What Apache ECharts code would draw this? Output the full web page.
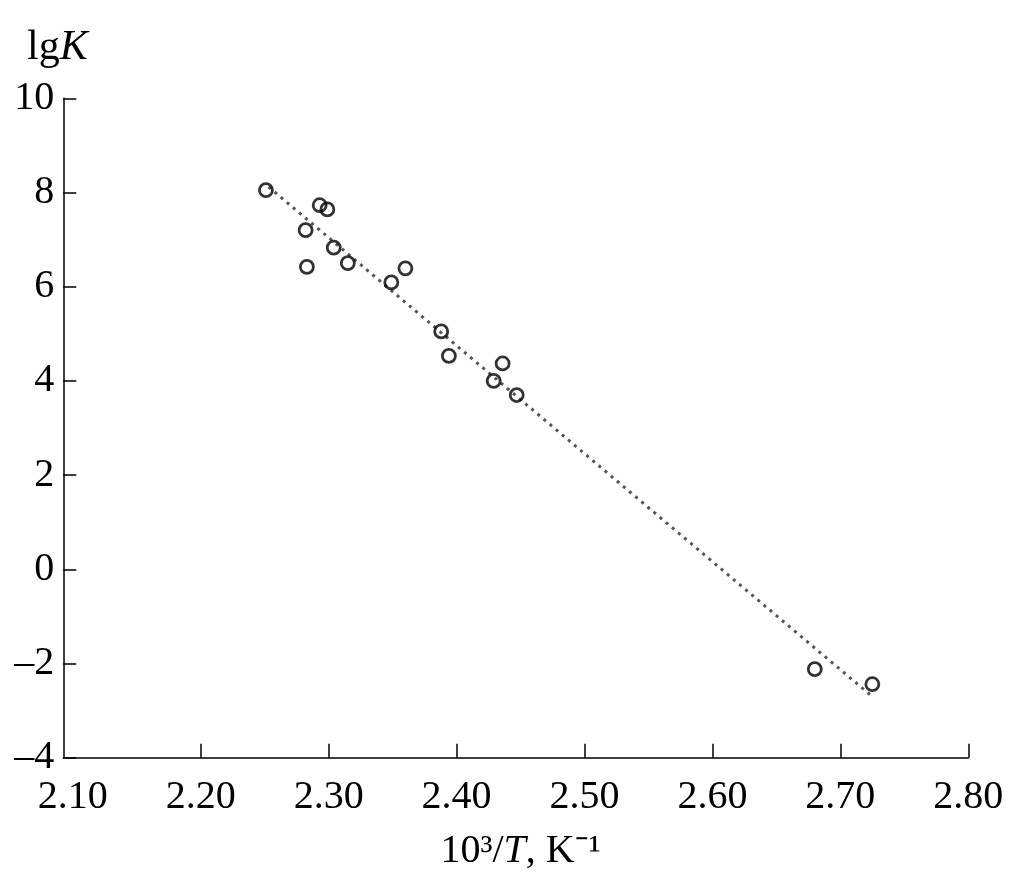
<!DOCTYPE html>
<html>
<head>
<meta charset="utf-8">
<script src="https://cdn.jsdelivr.net/npm/echarts@6/dist/echarts.min.js"></script>
<style>html,body{margin:0;padding:0;background:#fff}#c{width:1032px;height:892px}</style>
</head>
<body>
<div id="c"></div>
<script>
// Data
const invT = [2.251, 2.293, 2.299, 2.282, 2.283, 2.304, 2.315, 2.349, 2.360, 2.388, 2.394, 2.436, 2.429, 2.447, 2.680, 2.725];
const lgK  = [8.05, 7.73, 7.64, 7.20, 6.42, 6.83, 6.50, 6.09, 6.39, 5.05, 4.53, 4.37, 4.00, 3.70, -2.12, -2.44];
const fitX = [2.253, 2.724];
const fitY = [8.12, -2.68];
const xTicks = [2.20, 2.30, 2.40, 2.50, 2.60, 2.70, 2.80];
const xLabels = [2.10, 2.20, 2.30, 2.40, 2.50, 2.60, 2.70, 2.80];

const FONT = 'Liberation Serif';
const FS = 40;
const pts = invT.map((x, i) => [x, lgK[i]]);
const fit = fitX.map((x, i) => [x, fitY[i]]);

const G = {top: 98.3, bottom: 134.3, right: 63.7};
const chart = echarts.init(document.getElementById('c'), null, {renderer: 'canvas'});
chart.setOption({
  backgroundColor: '#fff',
  animation: false,
  title: {
    text: '{a|lg}{b|K}',
    left: 22, top: 22,
    textStyle: {
      fontWeight: 'normal',
      rich: {
        a: {fontFamily: FONT, fontSize: 42, fontWeight: 'normal', color: '#000'},
        b: {fontFamily: FONT, fontSize: 42, fontWeight: 'normal', fontStyle: 'italic', color: '#000'}
      }
    }
  },
  grid: [
    {left: 63.3, right: G.right, top: G.top, bottom: G.bottom},
    {left: 72.8, right: G.right, top: G.top, bottom: G.bottom}
  ],
  xAxis: [
    {
      type: 'value', gridIndex: 0, min: 2.0926, max: 2.80,
      axisLine: {show: true, onZero: false, lineStyle: {color: '#000', width: 1.5}},
      axisTick: {show: false}, axisLabel: {show: false}, splitLine: {show: false}
    },
    {
      type: 'value', gridIndex: 1, min: 2.10, max: 2.80, interval: 0.1,
      axisLine: {show: false, onZero: false},
      axisTick: {show: true, inside: true, length: 14, customValues: xTicks, lineStyle: {color: '#000', width: 1.5}},
      axisLabel: {
        customValues: xLabels, margin: 20,
        fontFamily: FONT, fontSize: FS, color: '#000',
        formatter: v => Number(v).toFixed(2)
      },
      splitLine: {show: false},
      name: '10³/{i|T}, K⁻¹',
      nameLocation: 'middle', nameGap: 74,
      nameTextStyle: {
        fontFamily: FONT, fontSize: FS, color: '#000',
        rich: {i: {fontFamily: FONT, fontSize: FS, fontStyle: 'italic', color: '#000'}}
      }
    }
  ],
  yAxis: [
    {
      type: 'value', gridIndex: 0, min: -4, max: 10, interval: 2,
      axisLine: {show: true, onZero: false, lineStyle: {color: '#000', width: 1.5}},
      axisTick: {show: true, inside: true, length: 13, lineStyle: {color: '#000', width: 1.5}},
      axisLabel: {
        margin: 9, fontFamily: FONT, fontSize: FS, color: '#000',
        formatter: v => String(v).replace('-', '\u2013')
      },
      splitLine: {show: false}
    },
    {
      type: 'value', gridIndex: 1, min: -4, max: 10, show: false
    }
  ],
  series: [
    {
      type: 'line', xAxisIndex: 0, yAxisIndex: 0, data: fit,
      showSymbol: false, symbol: 'none',
      lineStyle: {color: '#555', width: 3, type: [3, 5]},
      z: 1
    },
    {
      type: 'scatter', xAxisIndex: 0, yAxisIndex: 0, data: pts,
      symbol: 'circle', symbolSize: 13,
      itemStyle: {color: 'rgba(255,255,255,0)', borderColor: '#000', borderWidth: 2.8},
      z: 2
    }
  ]
});
</script>
</body>
</html>
